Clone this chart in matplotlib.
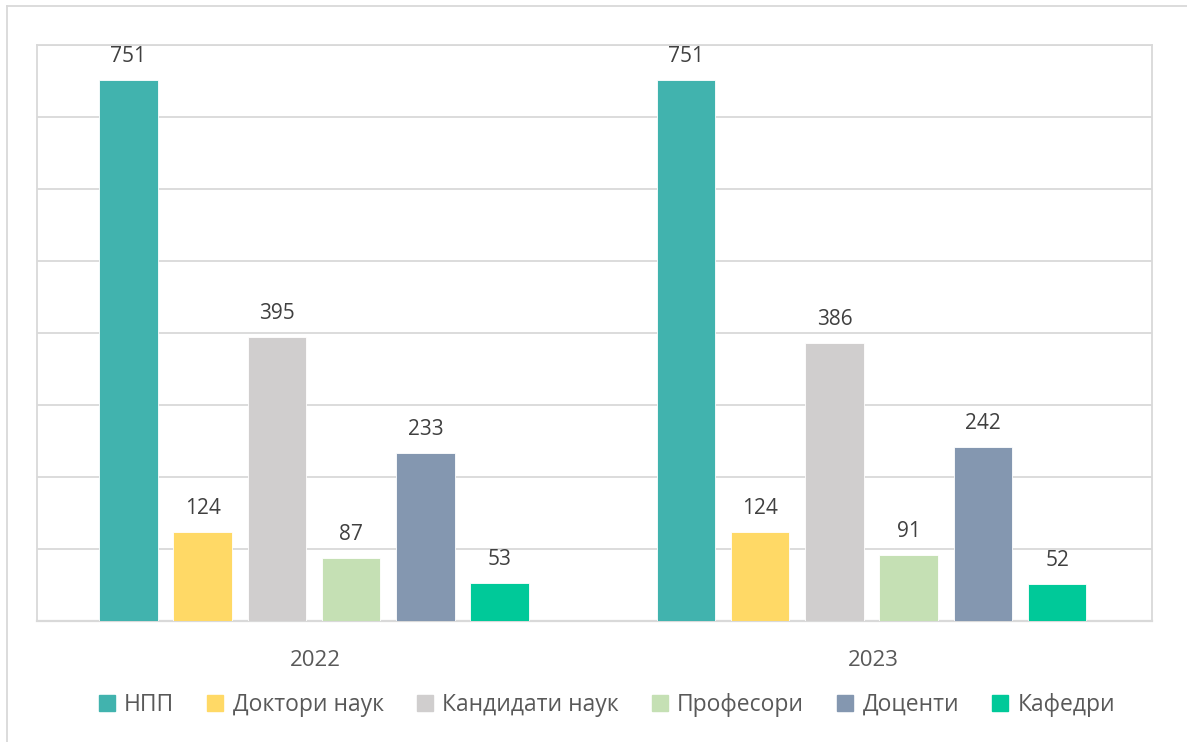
import matplotlib
matplotlib.use("Agg")
import matplotlib.pyplot as plt
import numpy as np
from matplotlib.lines import Line2D

years = ["2022", "2023"]
series = ["НПП", "Доктори наук", "Кандидати наук", "Професори", "Доценти", "Кафедри"]
npp = [751, 751]
doctors = [124, 124]
candidates = [395, 386]
professors = [87, 91]
docents = [233, 242]
departments = [53, 52]
values = [npp, doctors, candidates, professors, docents, departments]

colors = ["#41B3AE", "#FFD966", "#D0CECE", "#C5E0B4", "#8497B0", "#00C999"]

plt.rcParams["font.family"] = ["Open Sans", "DejaVu Sans"]

fig = plt.figure(figsize=(11.87, 7.42), dpi=100)
ax = fig.add_axes([37 / 1187, 1 - 621 / 742, (1152 - 37) / 1187, (621 - 45) / 742])

x = np.arange(len(years)) - 0.003
width = 0.105
step = 0.1332
for i, (name, vals, col) in enumerate(zip(series, values, colors)):
    pos = x + (i - 2.5) * step
    bars = ax.bar(pos, vals, width, color=col, label=name, zorder=3,
                  edgecolor="white", linewidth=0.6)
    for b, v in zip(bars, vals):
        ax.annotate(str(v), (b.get_x() + b.get_width() / 2, v),
                    xytext=(0, 13), textcoords="offset points",
                    ha="center", va="baseline", fontsize=15, color="#404040")

ax.set_xlim(-0.5, 1.5)
ax.set_ylim(0, 800)
ax.set_yticks(np.arange(0, 801, 100))
ax.set_yticklabels([])
ax.tick_params(axis="y", length=0)
ax.tick_params(axis="x", length=0, pad=21, labelsize=16, labelcolor="#595959")
ax.set_xticks(np.arange(len(years)))
ax.set_xticklabels(years)
ax.grid(axis="y", color="#D9D9D9", linewidth=1.3, zorder=0)
for s in ax.spines.values():
    s.set_color("#D9D9D9")
    s.set_linewidth(1.3)
ax.spines["bottom"].set_linewidth(1.6)

handles = [Line2D([], [], marker="s", linestyle="", markersize=11,
                  markerfacecolor=c, markeredgecolor=c) for c in colors]
fig.legend(handles, series, loc="center", bbox_to_anchor=(0.51, 1 - 705 / 742),
           ncol=6, frameon=False, fontsize=16.5, labelcolor="#595959",
           handletextpad=0.25, columnspacing=1.3, handlelength=1.0)

# outer chart frame (top and left visible in the source)
fig.add_artist(Line2D([7 / 1187, 7 / 1187], [0, 1 - 6 / 742], color="#D9D9D9",
                      linewidth=1.3, transform=fig.transFigure))
fig.add_artist(Line2D([7 / 1187, 1], [1 - 6 / 742, 1 - 6 / 742], color="#D9D9D9",
                      linewidth=1.3, transform=fig.transFigure))

fig.savefig("out.png", dpi=100)
